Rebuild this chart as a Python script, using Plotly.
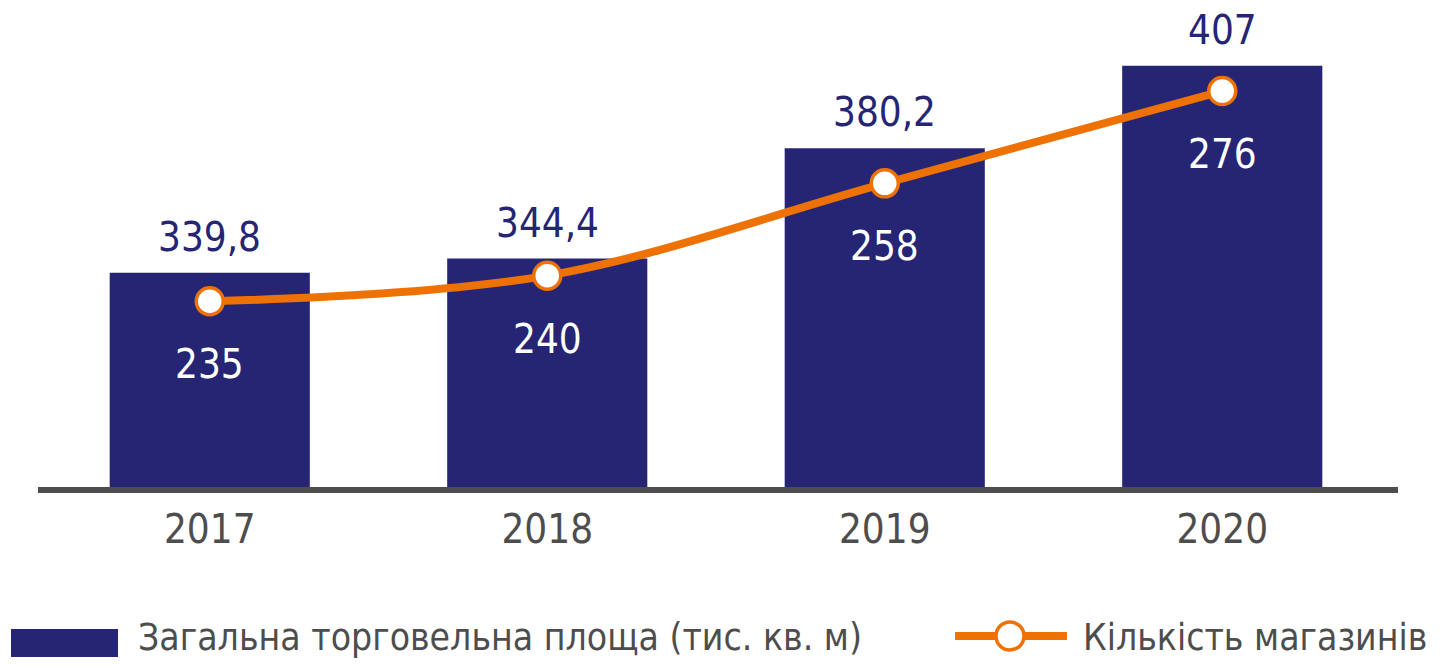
import plotly.graph_objects as go

years = ["2017", "2018", "2019", "2020"]
area = [339.8, 344.4, 380.2, 407]
area_labels = ["339,8", "344,4", "380,2", "407"]
stores = [235, 240, 258, 276]
stores_labels = ["235", "240", "258", "276"]

NAVY = "#252574"
ORANGE = "#EE7203"
GREY = "#4D4D4D"
FONT = "DejaVu Sans Condensed, Liberation Sans Narrow, sans-serif"

W, H = 1445, 665
OFF = 8  # page body margin
L, R, T, B = 33, 62, 0, 183
PW, PH = W - L - R, H - T - B


# screen pixel -> paper coords
def px(x):
    return (x - OFF - L) / PW


def py(y):
    return (H - B - (y - OFF)) / PH


fig = go.Figure()

fig.add_trace(go.Bar(
    x=years,
    y=area,
    marker={"color": NAVY, "line": {"width": 0}},
    name="Загальна торговельна площа (тис. кв. м)",
    showlegend=False,
))

fig.add_trace(go.Scatter(
    x=years,
    y=stores,
    yaxis="y2",
    mode="lines+markers",
    line={"color": ORANGE, "width": 8, "shape": "spline", "smoothing": 1},
    marker={"size": 27, "color": "white", "line": {"color": ORANGE, "width": 3.5}},
    name="Кількість магазинів",
    showlegend=False,
))

annotations = []
# category axis: annotation x given as category index
for i, (v, t) in enumerate(zip(area, area_labels)):
    annotations.append(dict(
        x=i, y=v, xref="x", yref="y", text=t, showarrow=False,
        yanchor="bottom", yshift=11, font={"size": 40, "color": NAVY, "family": FONT},
    ))
for i, (v, t) in enumerate(zip(stores, stores_labels)):
    annotations.append(dict(
        x=i, y=v, xref="x", yref="y2", text=t, showarrow=False,
        yanchor="middle", yshift=-63, font={"size": 40, "color": "white", "family": FONT},
    ))

# legend drawn by hand
annotations.append(dict(
    x=px(136), y=py(637), xref="paper", yref="paper", xanchor="left", yanchor="middle",
    text="Загальна торговельна площа (тис. кв. м)", showarrow=False,
    font={"size": 37, "color": GREY, "family": FONT},
))
annotations.append(dict(
    x=px(1081), y=py(637), xref="paper", yref="paper", xanchor="left", yanchor="middle",
    text="Кількість магазинів", showarrow=False,
    font={"size": 37, "color": GREY, "family": FONT},
))

shapes = [
    dict(type="line", xref="paper", yref="paper", x0=px(38), x1=px(1398), y0=py(490), y1=py(490),
         line={"color": GREY, "width": 6}),
    dict(type="rect", xref="paper", yref="paper", x0=px(11), x1=px(118), y0=py(657), y1=py(629),
         fillcolor=NAVY, line={"width": 0}),
    dict(type="line", xref="paper", yref="paper", x0=px(955), x1=px(1067), y0=py(636), y1=py(636),
         line={"color": ORANGE, "width": 8}),
    dict(type="circle", xref="paper", yref="paper", x0=px(996), x1=px(1024), y0=py(650), y1=py(622),
         fillcolor="white", line={"color": ORANGE, "width": 3.5}),
]

fig.update_layout(
    width=W,
    height=H,
    margin={"l": L, "r": R, "t": T, "b": B},
    paper_bgcolor="white",
    plot_bgcolor="white",
    bargap=0.407,
    font={"family": FONT, "color": GREY},
    xaxis={
        "type": "category",
        "range": [-0.5, 3.5],
        "showgrid": False, "zeroline": False, "showline": False,
        "tickfont": {"size": 40, "color": GREY, "family": FONT},
        "ticks": "outside", "ticklen": 4, "tickcolor": "rgba(0,0,0,0)",
    },
    yaxis={"range": [269.3, 425.7], "visible": False, "showgrid": False},
    yaxis2={"range": [198.2, 292.2], "visible": False, "overlaying": "y", "showgrid": False},
    annotations=annotations,
    shapes=shapes,
)

fig.write_html("out.html")
